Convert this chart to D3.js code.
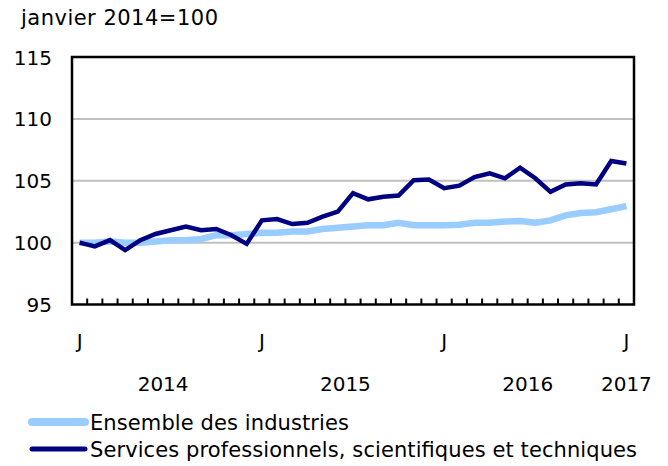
<!DOCTYPE html>
<html>
<head>
<meta charset="utf-8">
<script src="https://cdn.jsdelivr.net/npm/d3@7"></script>
<style>
	body { margin: 0; background: #fff; }
	svg text { font-family: "DejaVu Sans", Verdana, sans-serif; font-size: 20px; fill: #000; }
	svg text.wide { font-size: 21px; }
</style>
</head>
<body>
<script>
(function(){

	//monthly categories, January 2014 to January 2017
	var months = [
		"2014-01", "2014-02", "2014-03", "2014-04", "2014-05", "2014-06",
		"2014-07", "2014-08", "2014-09", "2014-10", "2014-11", "2014-12",
		"2015-01", "2015-02", "2015-03", "2015-04", "2015-05", "2015-06",
		"2015-07", "2015-08", "2015-09", "2015-10", "2015-11", "2015-12",
		"2016-01", "2016-02", "2016-03", "2016-04", "2016-05", "2016-06",
		"2016-07", "2016-08", "2016-09", "2016-10", "2016-11", "2016-12",
		"2017-01"
	];

	//series values (janvier 2014=100)
	var ensemble = [
		100.0, 100.0, 100.1, 100.0, 100.0, 100.1, 100.2, 100.2, 100.3, 100.6,
		100.6, 100.7, 100.8, 100.8, 100.9, 100.9, 101.1, 101.2, 101.3, 101.4,
		101.4, 101.6, 101.4, 101.4, 101.4, 101.45, 101.6, 101.6, 101.7, 101.75,
		101.6, 101.8, 102.2, 102.4, 102.45, 102.7, 102.95
	];
	var services = [
		100.0, 99.7, 100.2, 99.4, 100.2, 100.7, 101.0, 101.3, 101.0, 101.1,
		100.6, 99.9, 101.8, 101.9, 101.5, 101.6, 102.1, 102.5, 104.0, 103.5,
		103.7, 103.8, 105.05, 105.1, 104.4, 104.6, 105.3, 105.6, 105.2, 106.05,
		105.2, 104.1, 104.7, 104.8, 104.7, 106.6, 106.4
	];

	var seriesNames = ["Ensemble des industries", "Services professionnels, scientifiques et techniques"];
	var seriesColors = ["#99ccff", "#000080"];
	var seriesWidths = [6.5, 4.5];
	var legendWidths = [259, 547]; //text widths as measured on the reference

	//axis labels
	var yTicks = [95, 100, 105, 110, 115];
	var monthLabels = [{i: 0, t: "J"}, {i: 12, t: "J"}, {i: 24, t: "J"}, {i: 36, t: "J"}];
	var yearLabels = [{from: 0, to: 11, t: "2014"}, {from: 12, to: 23, t: "2015"}, {from: 24, to: 35, t: "2016"}, {from: 36, to: 36, t: "2017"}];

	//frame dimensions
	var width = 668,
		height = 466,
		left = 72,
		right = 634,
		top = 57,
		bottom = 304.5;

	var svg = d3.select("body")
		.append("svg")
		.attr("width", width)
		.attr("height", height);

	var x = d3.scaleBand()
		.domain(months)
		.range([left, right])
		.padding(0);

	var y = d3.scaleLinear()
		.domain([95, 115])
		.range([bottom, top]);

	function cx(i){
		return x(months[i]) + x.bandwidth() / 2;
	}

	//unit label
	svg.append("text")
		.attr("class", "wide")
		.attr("x", 21)
		.attr("y", 25)
		.attr("textLength", 197)
		.attr("lengthAdjust", "spacing")
		.text("janvier 2014=100");

	//gridlines
	svg.selectAll(".grid")
		.data(yTicks.filter(function(d){ return d > 95 && d < 115; }))
		.enter()
		.append("line")
		.attr("class", "grid")
		.attr("x1", left)
		.attr("x2", right)
		.attr("y1", function(d){ return y(d); })
		.attr("y2", function(d){ return y(d); })
		.style("stroke", "#c0c0c0")
		.style("stroke-width", 2);

	//y tick labels
	svg.selectAll(".ylab")
		.data(yTicks)
		.enter()
		.append("text")
		.attr("class", "ylab")
		.attr("x", 52)
		.attr("y", function(d){ return y(d) + 7.5; })
		.attr("text-anchor", "end")
		.text(function(d){ return d; });

	//ticks on the bottom axis, at month boundaries
	svg.selectAll(".xtick")
		.data(months.slice(1))
		.enter()
		.append("line")
		.attr("class", "xtick")
		.attr("x1", function(d){ return x(d); })
		.attr("x2", function(d){ return x(d); })
		.attr("y1", bottom)
		.attr("y2", bottom - 6)
		.style("stroke", "#000")
		.style("stroke-width", 2);

	//series lines
	var series = [ensemble, services];
	var line = d3.line()
		.x(function(d, i){ return cx(i); })
		.y(function(d){ return y(d); });

	series.forEach(function(s, k){
		svg.append("path")
			.datum(s)
			.attr("d", line)
			.style("fill", "none")
			.style("stroke", seriesColors[k])
			.style("stroke-width", seriesWidths[k])
			.style("stroke-linejoin", "miter")
			.style("stroke-linecap", "butt");
	});

	//plot frame
	svg.append("rect")
		.attr("x", left)
		.attr("y", top)
		.attr("width", right - left)
		.attr("height", bottom - top)
		.style("fill", "none")
		.style("stroke", "#000")
		.style("stroke-width", 2.5);

	//month labels
	svg.selectAll(".mlab")
		.data(monthLabels)
		.enter()
		.append("text")
		.attr("class", "mlab")
		.attr("x", function(d){ return cx(d.i); })
		.attr("y", 348)
		.attr("text-anchor", "middle")
		.text(function(d){ return d.t; });

	//year labels
	svg.selectAll(".yrlab")
		.data(yearLabels)
		.enter()
		.append("text")
		.attr("class", "yrlab")
		.attr("x", function(d){ return (cx(d.from) + cx(d.to)) / 2; })
		.attr("y", 391)
		.attr("text-anchor", "middle")
		.text(function(d){ return d.t; });

	//legend
	var legend = svg.selectAll(".legend")
		.data(seriesNames)
		.enter()
		.append("g")
		.attr("class", "legend")
		.attr("transform", function(d, i){ return "translate(0," + (422 + i * 27) + ")"; });

	legend.append("line")
		.attr("x1", 32)
		.attr("x2", 85)
		.attr("y1", 0)
		.attr("y2", 0)
		.style("stroke", function(d, i){ return seriesColors[i]; })
		.style("stroke-width", function(d, i){ return i == 0 ? 8 : 5; })
		.style("stroke-linecap", "round");

	legend.append("text")
		.attr("class", "wide")
		.attr("x", 90)
		.attr("y", 8)
		.attr("textLength", function(d, i){ return legendWidths[i]; })
		.attr("lengthAdjust", "spacing")
		.text(function(d){ return d; });

})();
</script>
</body>
</html>
